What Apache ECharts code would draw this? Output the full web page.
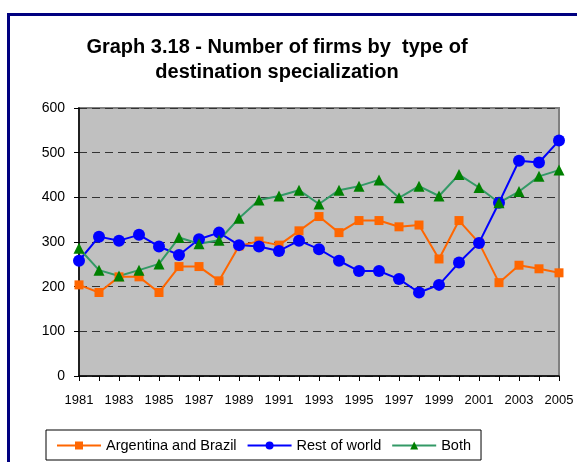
<!DOCTYPE html>
<html><head><meta charset="utf-8">
<script src="https://cdn.jsdelivr.net/npm/echarts@6/dist/echarts.min.js"></script>
<style>html,body{margin:0;padding:0;background:#fff}#c{width:577px;height:462px}</style>
</head><body><div id="c"></div>
<script>
const years = ['1981','1982','1983','1984','1985','1986','1987','1988','1989','1990','1991','1992','1993','1994','1995','1996','1997','1998','1999','2000','2001','2002','2003','2004','2005'];
const argentinaBrazil = [204,187,222,222,187,245,245,213,291,302,293,325,357,321,348,348,334,338,262,348,298,209,248,240,231];
const restOfWorld = [258,312,303,316,290,271,306,321,293,290,280,303,284,258,235,235,217,187,204,254,298,388,482,478,527];
const both = [286,237,224,237,251,310,296,304,353,394,403,416,385,416,425,439,399,425,403,451,422,388,413,447,461];
const yTicks = [0,100,200,300,400,500,600];

const chart = echarts.init(document.getElementById('c'));
const font = 'Liberation Sans, Arial, sans-serif';
chart.setOption({
  animation:false,
  textStyle:{fontFamily:font},
  graphic:[{type:'rect',z:-10,shape:{x:8.5,y:14.5,width:640,height:520},style:{fill:'none',stroke:'#000080',lineWidth:3}}],
  title:{text:'Graph 3.18 - Number of firms by  type of\ndestination specialization',left:272,textAlign:'center',top:30,
    textStyle:{fontSize:20,fontWeight:'bold',color:'#000',fontFamily:font,lineHeight:25}},
  grid:{left:79,right:18,top:108,bottom:86,show:true,backgroundColor:'#C0C0C0',borderColor:'#808080',borderWidth:2},
  legend:{bottom:2,left:46,width:437,itemWidth:44,itemHeight:10,itemGap:10,
    borderColor:'#000',borderWidth:1,padding:[8,10,7,10],
    textStyle:{fontSize:14.5,color:'#000',fontFamily:font},
    data:['Argentina and Brazil','Rest of world','Both']},
  xAxis:{type:'category',data:years,boundaryGap:false,
    axisLine:{lineStyle:{color:'#000',width:1.5}},
    axisTick:{interval:0,length:5,lineStyle:{color:'#000'}},
    axisLabel:{interval:1,color:'#000',fontSize:13,margin:18,fontFamily:font},
    splitLine:{show:false}},
  yAxis:{type:'value',min:0,max:600,interval:100,
    axisLine:{show:true,lineStyle:{color:'#000',width:1.5}},
    axisTick:{show:true,length:5,lineStyle:{color:'#000'}},
    axisLabel:{color:'#000',fontSize:14,margin:14,fontFamily:font},
    splitLine:{lineStyle:{color:'#333',type:[8,5],width:1}}},
  series:[
    {name:'Argentina and Brazil',type:'line',data:argentinaBrazil,symbol:'rect',symbolSize:9,
      lineStyle:{color:'#FF6600',width:2},itemStyle:{color:'#FF6600'}},
    {name:'Rest of world',type:'line',data:restOfWorld,symbol:'circle',symbolSize:12,
      lineStyle:{color:'#0000FF',width:2},itemStyle:{color:'#0000FF'}},
    {name:'Both',type:'line',data:both,symbol:'triangle',symbolSize:11,
      lineStyle:{color:'#339966',width:2},itemStyle:{color:'#008000'}}
  ]
});
</script></body></html>
